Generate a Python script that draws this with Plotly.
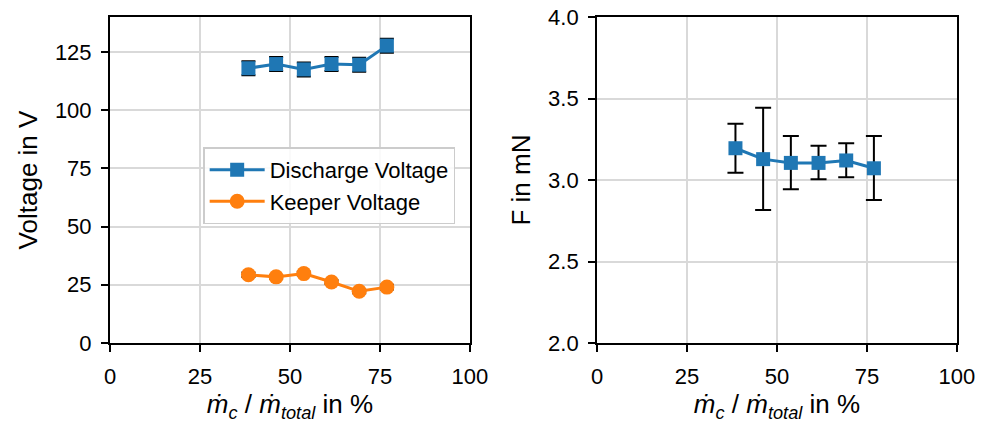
import plotly.graph_objects as go

mass_ratio = [38.46, 46.15, 53.85, 61.54, 69.23, 76.92]
discharge_v = [118.0, 119.8, 117.5, 119.8, 119.5, 127.7]
discharge_err = [3.0, 3.0, 3.0, 3.0, 3.0, 3.0]
keeper_v = [29.3, 28.4, 29.8, 26.2, 22.2, 24.0]
keeper_err = [1.0, 0.8, 0.8, 0.8, 0.8, 1.0]
thrust = [3.195, 3.128, 3.105, 3.105, 3.120, 3.072]
thrust_err_plus = [0.150, 0.315, 0.165, 0.105, 0.105, 0.198]
thrust_err_minus = [0.150, 0.312, 0.162, 0.100, 0.103, 0.195]

C0 = "#1f77b4"
C1 = "#ff7f0e"
FONT = "Liberation Sans, Arial, sans-serif"
FS = 22

fig = go.Figure()
fig.add_trace(go.Scatter(
    x=mass_ratio, y=discharge_v, name="Discharge Voltage", mode="lines+markers",
    line=dict(color=C0, width=3), marker=dict(symbol="square", size=14, color=C0),
    error_y=dict(type="data", array=discharge_err, color="black", thickness=2, width=7),
    xaxis="x", yaxis="y"))
fig.add_trace(go.Scatter(
    x=mass_ratio, y=keeper_v, name="Keeper Voltage", mode="lines+markers",
    line=dict(color=C1, width=3), marker=dict(symbol="circle", size=15, color=C1),
    error_y=dict(type="data", array=keeper_err, color="black", thickness=2, width=7),
    xaxis="x", yaxis="y"))
fig.add_trace(go.Scatter(
    x=mass_ratio, y=thrust, name="Thrust", mode="lines+markers", showlegend=False,
    line=dict(color=C0, width=3), marker=dict(symbol="square", size=14, color=C0),
    error_y=dict(type="data", array=thrust_err_plus, arrayminus=thrust_err_minus,
                 color="black", thickness=2, width=8),
    xaxis="x2", yaxis="y2"))

xtitle = "<i>ṁ<sub>c</sub></i> / <i>ṁ<sub>total</sub></i> in %"
axis_common = dict(
    showline=True, linecolor="black", linewidth=2, mirror=True,
    ticks="outside", ticklen=7, tickwidth=2, tickcolor="black",
    showgrid=True, gridcolor="#d9d9d9", gridwidth=1.5,
    zeroline=False, tickfont=dict(size=FS, color="black", family=FONT),
    automargin=False, ticklabeloverflow="allow",
)
fig.update_layout(
    width=983, height=415,
    margin=dict(l=102, r=34, t=9, b=80),
    paper_bgcolor="white", plot_bgcolor="white",
    font=dict(family=FONT, size=FS, color="black"),
    xaxis=dict(domain=[0, 0.425], range=[0, 100.01], tickvals=[0, 25, 50, 75, 100],
               ticklabelstandoff=6,
               title=dict(text=xtitle, standoff=6), anchor="y", **axis_common),
    yaxis=dict(domain=[0, 1], range=[0, 140], tickvals=[0, 25, 50, 75, 100, 125],
               ticklabelstandoff=5,
               title=dict(text="Voltage in V", standoff=10), anchor="x", **axis_common),
    xaxis2=dict(domain=[0.575, 1], range=[0, 100.01], tickvals=[0, 25, 50, 75, 100],
                ticklabelstandoff=6,
                title=dict(text=xtitle, standoff=6), anchor="y2", **axis_common),
    yaxis2=dict(domain=[0, 1], range=[2.0, 4.0002], tickvals=[2.0, 2.5, 3.0, 3.5, 4.0],
                tickformat=".1f", ticklabelstandoff=5,
                title=dict(text="F in mN", standoff=10), anchor="x2", **axis_common),
    legend=dict(x=0.11, y=0.6, xanchor="left", yanchor="top",
                bgcolor="rgba(255,255,255,0.85)", bordercolor="#cccccc", borderwidth=1.5,
                font=dict(size=FS, family=FONT, color="black"), itemwidth=55,
                tracegroupgap=0),
)
fig.write_html("out.html")
